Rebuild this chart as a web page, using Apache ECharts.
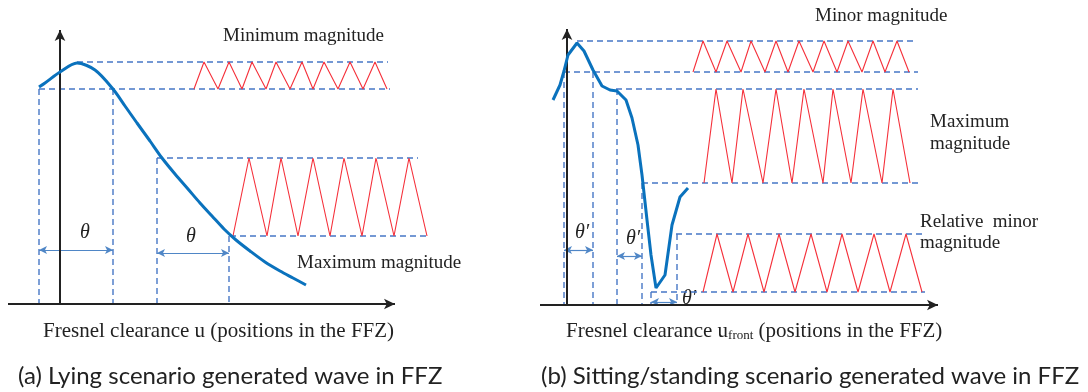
<!DOCTYPE html>
<html>
<head>
<meta charset="utf-8">
<script src="https://cdn.jsdelivr.net/npm/echarts@6/dist/echarts.min.js"></script>
<style>
  html, body { margin: 0; background: #fff; }
  #chart { width: 1088px; height: 392px; }
</style>
</head>
<body>
<div id="chart"></div>
<script>
// all values are in axis units (1 unit = 1 px), origin at the axes' crossing

// ---- panel (a): lying scenario ----
const curveA = [[-21,217],[-15,221],[0,232],[17,241],[35,234],[53,215],[65,198],[77,181],[90,163],[102,146],[115,130],
  [128,115],[140,101],[152,88],[164,75],[176,64],[190,53],[205,42],[220,33],[233,26],[246,19]];
// axis lines: [x1, y1, x2, y2] (arrow at the second end)
const axesA = [[-52,0,335,0], [0,0,0,274]];
// dashed guides: [x1, y1, x2, y2]
const dashA = [
  [17,242,328,242], [-21,215,330,215], [97,146,358,146], [170,68,367,68],
  [-21,215,-21,0], [53,215,53,0], [97,146,97,0], [169,68,169,0]
];
const arrowsA = [[-21,54,53,54], [97,51,169,51]];
// zigzag vertices x, alternating low / high level
const zigA1X = [134,144,158,169,182,192,206,216,230,242,253,264,278,290,303,315,327];
const zigA1Lvl = [215, 242];
const zigA2X = [173,189,207,221,238,253,270,284,302,316,334,349,367];
const zigA2Lvl = [68, 146];

// ---- panel (b): sitting / standing scenario ----
const curveB = [[-14,205],[-7,220],[-3,234],[1,250],[10,262],[17,254],[26,235],[35,219],[43,215],[50,214],[59,205],
  [65,187],[71,160],[75,130],[80,85],[84,50],[89,17],[98,30],[105,80],[113,108],[121,117]];
const axesB = [[-27,0,371,0], [0,0,0,276]];
const dashB = [
  [10,264,348,264], [-3,233,351,233], [49,216,351,216], [75,122,351,122], [109,71,356,71], [84,13,358,13],
  [-3,233,-3,0], [26,233,26,0], [50,216,50,0], [75,122,75,0], [84,13,84,0], [110,71,110,0]
];
const arrowsB = [[-3,55,26,55], [50,49,75,49], [84,3,110,3]];
const zigB1X = [126,136,149,160,174,184,198,209,221,232,246,257,270,281,295,306,318,330,342];
const zigB1Lvl = [233, 264];
const zigB2X = [137,149,165,176,196,209,225,237,256,266,284,296,315,326,343];
const zigB2Lvl = [122, 216];
const zigB3X = [136,150,166,181,197,212,228,244,260,275,291,307,323,339,355];
const zigB3Lvl = [13, 71];

const BLUE_DASH = '#4777c6';
const CURVE = '#0a72bd';
const RED = '#f5303a';
const SERIF = '19px "Liberation Serif", serif';
const SERIF_AX = '21px "Liberation Serif", serif';
const SANS = '24px Lato, "Open Sans", sans-serif';
const THETA = 'italic 20px "Liberation Serif", serif';
const INK = '#222';

const myChart = echarts.init(document.getElementById('chart'));

function hiddenAxis(idx, min, max) {
  return { type: 'value', gridIndex: idx, min: min, max: max,
    axisLine: { show: false }, axisTick: { show: false }, axisLabel: { show: false }, splitLine: { show: false } };
}

function segs(list) {
  return list.map(function (a) { return [{ coord: [a[0], a[1]] }, { coord: [a[2], a[3]] }]; });
}
function dashSeries(list, idx) {
  return list.map(function (d) {
    return {
      type: 'line', xAxisIndex: idx, yAxisIndex: idx, clip: false, silent: true,
      symbol: 'none', data: [[d[0], d[1]], [d[2], d[3]]],
      lineStyle: { color: BLUE_DASH, width: 1.4, type: [6, 4] }, z: 2
    };
  });
}
function zigSeries(xs, lvl, idx) {
  return {
    type: 'line', xAxisIndex: idx, yAxisIndex: idx, clip: false, silent: true,
    symbol: 'none', data: xs.map(function (x, i) { return [x, lvl[i % 2]]; }),
    lineStyle: { color: RED, width: 1.1 }, z: 3
  };
}
function curveSeries(data, idx, smooth, arrows, axes) {
  return [{
    type: 'line', xAxisIndex: idx, yAxisIndex: idx, clip: false, silent: true,
    symbol: 'none', smooth: smooth, data: data,
    lineStyle: { color: CURVE, width: 3 }, z: 5,
    markLine: {
      silent: true, symbol: ['arrow', 'arrow'], symbolSize: [6, 8],
      label: { show: false },
      lineStyle: { color: '#4f86c6', width: 1.2, type: 'solid' },
      data: segs(arrows)
    }
  }, {
    type: 'line', xAxisIndex: idx, yAxisIndex: idx, clip: false, silent: true,
    symbol: 'none', data: [], z: 6,
    markLine: {
      silent: true, symbol: ['none', 'arrow'], symbolSize: [8, 11],
      label: { show: false },
      lineStyle: { color: INK, width: 2, type: 'solid' },
      data: segs(axes)
    }
  }];
}

function txt(x, y, text, font, align) {
  return { type: 'text', x: x, y: y, silent: true,
    style: { text: text, font: font, fill: INK, align: align || 'left', verticalAlign: 'middle' } };
}

myChart.setOption({
  animation: false,
  backgroundColor: '#fff',
  grid: [
    { left: 8, top: 30, width: 432, height: 274 },
    { left: 540, top: 29, width: 398, height: 276 }
  ],
  xAxis: [hiddenAxis(0, -52, 380), hiddenAxis(1, -27, 371)],
  yAxis: [hiddenAxis(0, 0, 274), hiddenAxis(1, 0, 276)],
  series: [].concat(
    dashSeries(dashA, 0),
    dashSeries(dashB, 1),
    [zigSeries(zigA1X, zigA1Lvl, 0), zigSeries(zigA2X, zigA2Lvl, 0),
     zigSeries(zigB1X, zigB1Lvl, 1), zigSeries(zigB2X, zigB2Lvl, 1), zigSeries(zigB3X, zigB3Lvl, 1)],
    curveSeries(curveA, 0, 0.3, arrowsA, axesA),
    curveSeries(curveB, 1, false, arrowsB, axesB)
  ),
  graphic: [
    txt(223, 36, 'Minimum magnitude', SERIF),
    txt(297, 263, 'Maximum magnitude', SERIF),
    txt(85, 233, 'θ', THETA, 'center'),
    txt(191, 237, 'θ', THETA, 'center'),
    txt(43, 331, 'Fresnel clearance u (positions in the FFZ)', SERIF_AX),
    txt(18, 376, '(a) Lying scenario generated wave in FFZ', SANS),

    txt(815, 16, 'Minor magnitude', SERIF),
    txt(930, 122, 'Maximum', SERIF),
    txt(930, 144, 'magnitude', SERIF),
    txt(920, 222, 'Relative  minor', SERIF),
    txt(920, 243, 'magnitude', SERIF),
    txt(582, 233, 'θ′', THETA, 'center'),
    txt(633, 239, 'θ′', THETA, 'center'),
    txt(689, 299, 'θ′', THETA, 'center'),
    {
      type: 'text', x: 566, y: 331, silent: true,
      style: {
        text: '{a|Fresnel clearance u}{s|front}{a| (positions in the FFZ)}',
        verticalAlign: 'middle',
        rich: {
          a: { font: SERIF_AX, fill: INK, color: INK, lineHeight: 24 },
          s: { font: '13px "Liberation Serif", serif', fill: INK, color: INK, lineHeight: 24, padding: [10, 0, 0, 0] }
        }
      }
    },
    txt(541, 376, '(b) Sitting/standing scenario generated wave in FFZ', SANS)
  ]
});
</script>
</body>
</html>
